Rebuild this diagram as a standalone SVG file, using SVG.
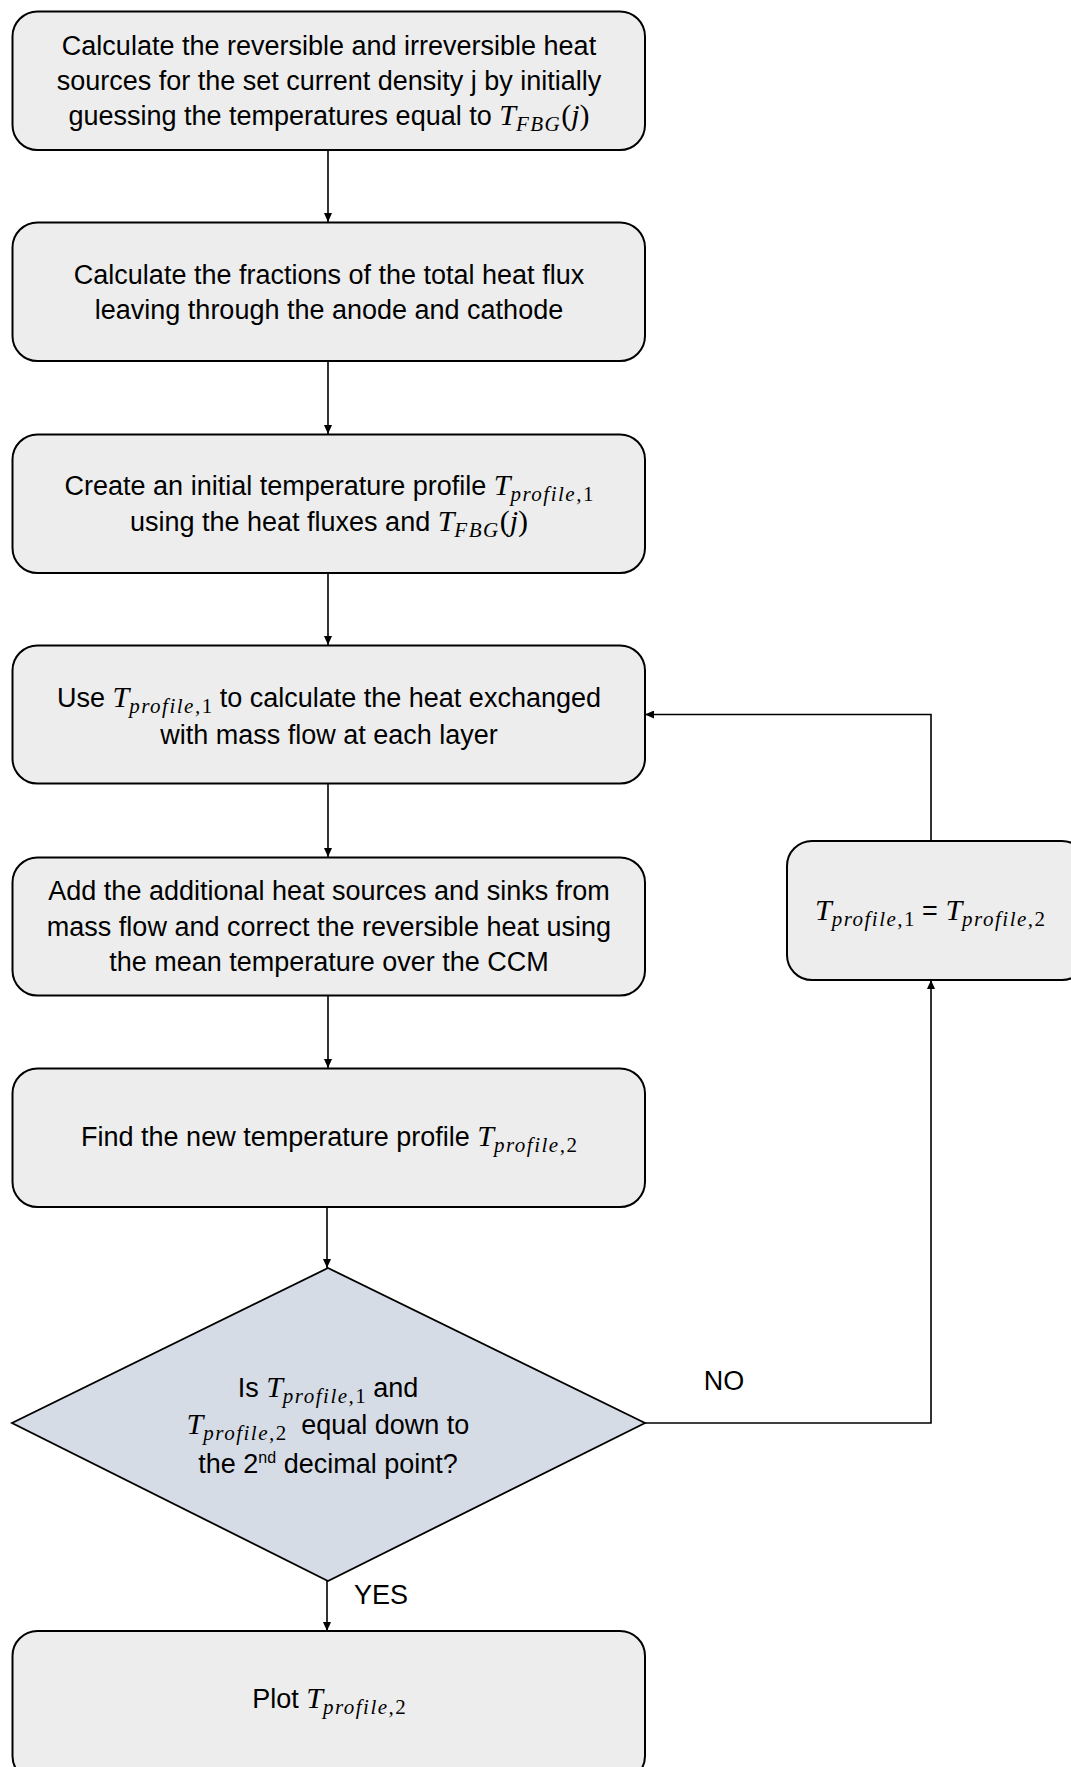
<svg xmlns="http://www.w3.org/2000/svg" width="1071" height="1767" viewBox="0 0 1071 1767">
<style>
.box{fill:#ededed;stroke:#000;stroke-width:2}
.dia{fill:#d6dce5;stroke:#000;stroke-width:1.8}
.t{font-family:"Liberation Sans",Arial,sans-serif;font-size:27px;fill:#000;text-anchor:middle}
.m{font-family:"Liberation Serif","Times New Roman",serif;font-style:italic;font-size:30px}
.s{font-family:"Liberation Serif","Times New Roman",serif;font-style:italic;font-size:21px;letter-spacing:1.5px}
.su{font-family:"Liberation Serif","Times New Roman",serif;font-style:normal;font-size:21px}
.p{font-family:"Liberation Serif","Times New Roman",serif;font-style:normal;font-size:30px}
.c{fill:none;stroke:#000;stroke-width:1.6}
</style>
<defs>
<marker id="ah" markerUnits="userSpaceOnUse" markerWidth="9" markerHeight="8" refX="9" refY="4" orient="auto">
<path d="M0,0 L9,4 L0,8 z" fill="#000"/>
</marker>
</defs>
<rect width="1071" height="1767" fill="#fff"/>
<g id="connectors">
<line class="c" x1="328" y1="150" x2="328" y2="222" marker-end="url(#ah)"/>
<line class="c" x1="328" y1="361" x2="328" y2="434" marker-end="url(#ah)"/>
<line class="c" x1="328" y1="573" x2="328" y2="645" marker-end="url(#ah)"/>
<line class="c" x1="328" y1="783" x2="328" y2="857" marker-end="url(#ah)"/>
<line class="c" x1="328" y1="995" x2="328" y2="1068" marker-end="url(#ah)"/>
<line class="c" x1="327" y1="1207" x2="327" y2="1268" marker-end="url(#ah)"/>
<line class="c" x1="327" y1="1581" x2="327" y2="1631" marker-end="url(#ah)"/>
<polyline class="c" points="645,1423 931,1423 931,980" marker-end="url(#ah)"/>
<polyline class="c" points="931,841 931,714.5 645,714.5" marker-end="url(#ah)"/>
</g>
<g id="n1">
<rect class="box" x="12.5" y="11.5" width="632.5" height="138.5" rx="25"/>
<text class="t" x="329" y="55">Calculate the reversible and irreversible heat</text>
<text class="t" x="329" y="90">sources for the set current density j by initially</text>
<text class="t" x="329" y="125">guessing the temperatures equal to <tspan class="m">T</tspan><tspan class="s" dy="6">FBG</tspan><tspan class="p" dy="-6">(</tspan><tspan class="m">j</tspan><tspan class="p">)</tspan></text>
</g>
<g id="n2">
<rect class="box" x="12.5" y="222.5" width="632.5" height="138.5" rx="25"/>
<text class="t" x="329" y="284">Calculate the fractions of the total heat flux</text>
<text class="t" x="329" y="319">leaving through the anode and cathode</text>
</g>
<g id="n3">
<rect class="box" x="12.5" y="434.5" width="632.5" height="138.5" rx="25"/>
<text class="t" x="329" y="495">Create an initial temperature profile <tspan class="m">T</tspan><tspan class="s" dy="6">profile,</tspan><tspan class="su">1</tspan></text>
<text class="t" x="329" y="531">using the heat fluxes and <tspan class="m">T</tspan><tspan class="s" dy="6">FBG</tspan><tspan class="p" dy="-6">(</tspan><tspan class="m">j</tspan><tspan class="p">)</tspan></text>
</g>
<g id="n4">
<rect class="box" x="12.5" y="645.5" width="632.5" height="138" rx="25"/>
<text class="t" x="329" y="707">Use <tspan class="m">T</tspan><tspan class="s" dy="6">profile,</tspan><tspan class="su">1</tspan><tspan dy="-6"> to calculate the heat exchanged</tspan></text>
<text class="t" x="329" y="744">with mass flow at each layer</text>
</g>
<g id="n5">
<rect class="box" x="12.5" y="857.5" width="632.5" height="138" rx="25"/>
<text class="t" x="329" y="900">Add the additional heat sources and sinks from</text>
<text class="t" x="329" y="936">mass flow and correct the reversible heat using</text>
<text class="t" x="329" y="971">the mean temperature over the CCM</text>
</g>
<g id="n6">
<rect class="box" x="12.5" y="1068.5" width="632.5" height="138.5" rx="25"/>
<text class="t" x="329" y="1146">Find the new temperature profile <tspan class="m">T</tspan><tspan class="s" dy="6">profile,</tspan><tspan class="su">2</tspan></text>
</g>
<g id="n7">
<polygon class="dia" points="328,1268 645,1423 328,1581 12,1423"/>
<text class="t" x="328" y="1397">Is <tspan class="m">T</tspan><tspan class="s" dy="6">profile,</tspan><tspan class="su">1</tspan><tspan dy="-6"> and</tspan></text>
<text class="t" x="328" y="1434"><tspan class="m">T</tspan><tspan class="s" dy="6">profile,</tspan><tspan class="su">2</tspan><tspan dy="-6">&#160; equal down to</tspan></text>
<text class="t" x="328" y="1473">the 2<tspan font-size="16" dy="-10">nd</tspan><tspan dy="10"> decimal point?</tspan></text>
</g>
<g id="n8">
<rect class="box" x="12.5" y="1631" width="632.5" height="150" rx="25"/>
<text class="t" x="329" y="1708">Plot <tspan class="m">T</tspan><tspan class="s" dy="6">profile,</tspan><tspan class="su">2</tspan></text>
</g>
<g id="n9">
<rect class="box" x="787" y="841" width="300" height="139" rx="25"/>
<text class="t" x="930" y="920"><tspan class="m">T</tspan><tspan class="s" dy="6">profile,</tspan><tspan class="su">1</tspan><tspan dy="-6"> = </tspan><tspan class="m">T</tspan><tspan class="s" dy="6">profile,</tspan><tspan class="su">2</tspan></text>
</g>
<g id="labels">
<text class="t" x="381" y="1604">YES</text>
<text class="t" x="724" y="1390">NO</text>
</g>
</svg>
